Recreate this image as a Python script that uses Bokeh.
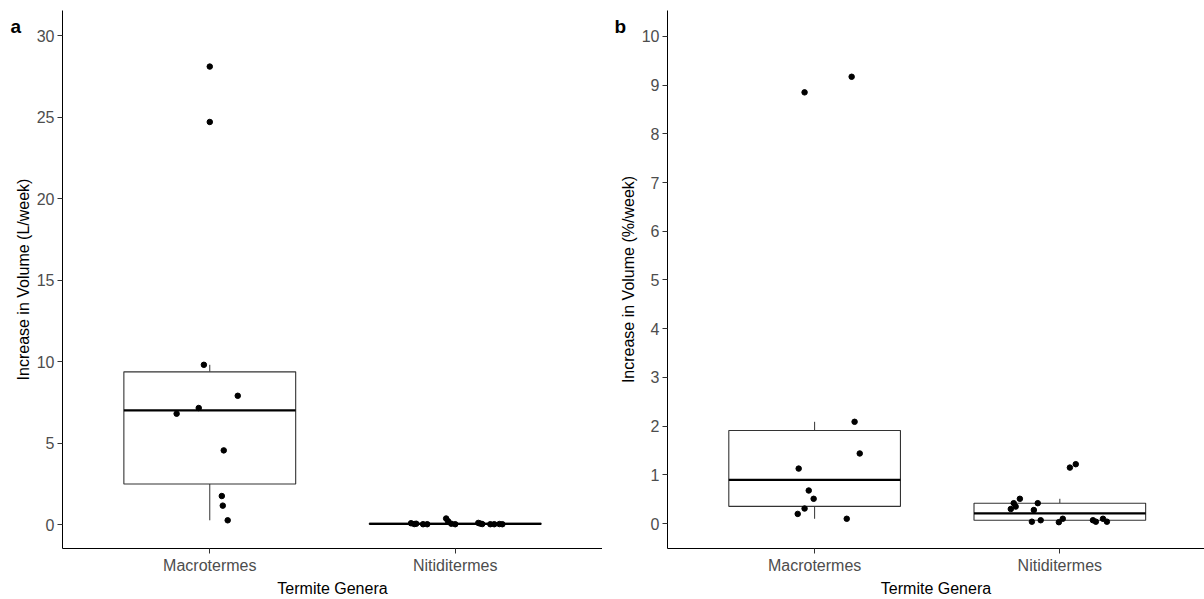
from bokeh.plotting import figure
from bokeh.layouts import row
from bokeh.models import FixedTicker, Label
from bokeh.embed import file_html
from bokeh.resources import INLINE

# ---------------- data ----------------
genera = ["Macrotermes", "Nitiditermes"]

# Panel a: Increase in volume (L/week)
a_macro_vals = [28.1, 24.7, 9.8, 7.9, 7.15, 6.8, 4.55, 1.75, 1.16, 0.26]
a_macro_jit = [0.0, 0.0, -0.024, 0.114, -0.045, -0.135, 0.057, 0.049, 0.053, 0.073]
a_nit_vals = [0.08, 0.03, 0.05, 0.02, 0.02, 0.37, 0.20, 0.05, 0.02, 0.10, 0.06, 0.03, 0.02, 0.02, 0.03, 0.02]
a_nit_jit = [-0.180, -0.167, -0.159, -0.131, -0.114, -0.037, -0.029, -0.016, 0.0,
             0.094, 0.102, 0.110, 0.143, 0.159, 0.180, 0.192]
# box stats: whisker low, q1, median, q3, whisker high
a_box_lo = [0.26, 0.00]
a_box_q1 = [2.49, 0.02]
a_box_med = [7.00, 0.04]
a_box_q3 = [9.37, 0.08]
a_box_hi = [9.80, 0.15]

# Panel b: Increase in volume (%/week)
b_macro_vals = [9.17, 8.85, 2.09, 1.44, 1.13, 0.68, 0.51, 0.31, 0.20, 0.10]
b_macro_jit = [0.151, -0.041, 0.163, 0.184, -0.065, -0.024, -0.004, -0.041, -0.069, 0.131]
b_nit_vals = [1.15, 1.22, 0.30, 0.42, 0.35, 0.51, 0.28, 0.42, 0.04, 0.07, 0.03, 0.10, 0.07, 0.04, 0.10, 0.04]
b_nit_jit = [0.041, 0.065, -0.200, -0.188, -0.180, -0.163, -0.106, -0.090, -0.114, -0.078,
             -0.004, 0.012, 0.135, 0.147, 0.176, 0.192]
b_box_lo = [0.10, 0.03]
b_box_q1 = [0.355, 0.07]
b_box_med = [0.90, 0.21]
b_box_q3 = [1.91, 0.42]
b_box_hi = [2.09, 0.51]

a_yticks = [0, 5, 10, 15, 20, 25, 30]
b_yticks = list(range(0, 11))

FONT = "Liberation Sans"
BOX_W = 0.70


def panel(tag, ylabel, yr, yticks, macro_vals, macro_jit, nit_vals, nit_jit,
          lo, q1, med, q3, hi, xr, width, left_border):
    p = figure(width=width, height=599, x_range=xr, y_range=yr,
               output_backend="svg", toolbar_location=None,
               min_border_left=left_border, min_border_right=0,
               min_border_top=10, min_border_bottom=50)
    p.background_fill_color = "white"
    p.border_fill_color = "white"
    p.outline_line_color = None
    p.xgrid.visible = False
    p.ygrid.visible = False

    cats = [1, 2]
    xs_left = [c - BOX_W / 2 for c in cats]
    xs_right = [c + BOX_W / 2 for c in cats]
    # whiskers
    p.segment(x0=cats, y0=q3, x1=cats, y1=hi, line_color="#333333", line_width=1)
    p.segment(x0=cats, y0=lo, x1=cats, y1=q1, line_color="#333333", line_width=1)
    # boxes
    p.quad(left=xs_left, right=xs_right, bottom=q1, top=q3,
           fill_color="white", line_color="#333333", line_width=1.1)
    # medians
    p.segment(x0=xs_left, y0=med, x1=xs_right, y1=med, line_color="black", line_width=2.2)

    # points
    px = [1 + j for j in macro_jit] + [2 + j for j in nit_jit]
    py = list(macro_vals) + list(nit_vals)
    p.scatter(px, py, size=5.5, color="black")

    # axes
    p.xaxis.ticker = FixedTicker(ticks=[1, 2])
    p.xaxis.major_label_overrides = {1: genera[0], 2: genera[1]}
    p.yaxis.ticker = FixedTicker(ticks=yticks)
    for ax in (p.xaxis[0], p.yaxis[0]):
        ax.axis_line_color = "black"
        ax.axis_line_width = 1
        ax.major_tick_line_color = "#333333"
        ax.major_tick_out = 5
        ax.major_tick_in = 0
        ax.minor_tick_line_color = None
        ax.major_label_text_font = FONT
        ax.major_label_text_font_size = "16px"
        ax.major_label_text_color = "#4D4D4D"
        ax.axis_label_text_font = FONT
        ax.axis_label_text_font_size = "16px"
        ax.axis_label_text_font_style = "normal"
        ax.axis_label_text_color = "black"
        ax.major_label_standoff = 3
    p.xaxis.axis_label = "Termite Genera"
    p.xaxis.axis_label_standoff = 3
    p.yaxis.axis_label = ylabel
    p.yaxis.axis_label_standoff = 2

    p.add_layout(Label(x=10, y=522, x_units="screen", y_units="screen", text=tag,
                       text_font=FONT, text_font_size="19px", text_font_style="bold",
                       text_color="black", text_baseline="alphabetic", text_align="left"),
                 "left")
    return p


pa = panel("a", "Increase in Volume (L/week)", (-1.47, 31.54), a_yticks,
           a_macro_vals, a_macro_jit, a_nit_vals, a_nit_jit,
           a_box_lo, a_box_q1, a_box_med, a_box_q3, a_box_hi,
           (0.4, 2.6), 602, 62)
pb = panel("b", "Increase in Volume (%/week)", (-0.51, 10.53), b_yticks,
           b_macro_vals, b_macro_jit, b_nit_vals, b_nit_jit,
           b_box_lo, b_box_q1, b_box_med, b_box_q3, b_box_hi,
           (0.4, 2.59), 602, 65)

layout = row(pa, pb, spacing=0)
open("out.html", "w").write(file_html(layout, INLINE))
